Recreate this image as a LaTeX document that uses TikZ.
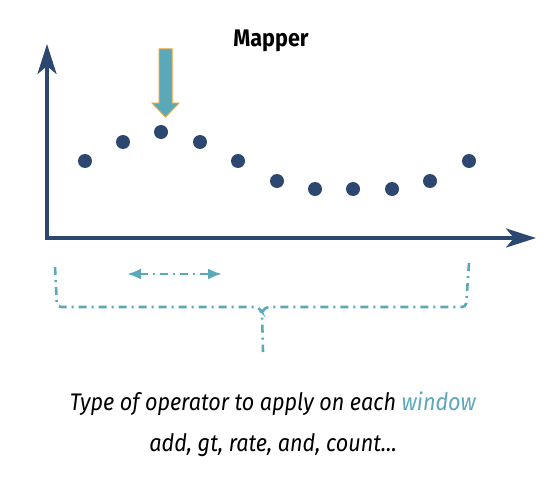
\documentclass[tikz,border=0pt]{standalone}
\usepackage{fontspec}
\setmainfont{Fira Sans}[FakeStretch=0.9]
\usetikzlibrary{arrows.meta,positioning}
\usepackage{xcolor}
\definecolor{navy}{HTML}{2C4770}
\definecolor{teal}{HTML}{5AA8B8}
\definecolor{amber}{HTML}{F0A030}

\begin{document}
\begin{tikzpicture}[
      x=1pt, y=-1pt,
      axis/.style={{Stealth[length=30pt,width=19pt,inset=8pt]}-{Stealth[length=30pt,width=19pt,inset=8pt]}, line width=3.6pt, draw=navy},
      sample/.style={circle, fill=navy, inner sep=0pt, minimum size=14pt},
      window/.style={draw=teal, line width=2.6pt, dash pattern=on 8pt off 5pt on 2pt off 5pt},
      caption/.style={font=\fontsize{24}{28}\selectfont\itshape, anchor=base}
    ]
    \useasboundingbox (0,0) rectangle (551,487);

    % axes
    \coordinate (ytop) at (47,44);
    \coordinate (origin) at (47,238);
    \coordinate (xend) at (536,238);
    \draw[axis] (ytop) -- (origin) -- (xend);

    % samples
    \foreach \i/\x/\y in {1/85/161, 2/123/142, 3/161/132, 4/200/142, 5/238/161,
                          6/277/181, 7/315/189, 8/353/189, 9/392/189, 10/430/181, 11/469/161}
      \node[sample] (s\i) at (\x,\y) {};

    % mapper arrow
    \node[font=\bfseries\fontsize{24}{28}\selectfont, anchor=base] (title) at (271,47) {Mapper};
    \draw[fill=teal, draw=amber, line width=1pt]
      (159,49) -- (172,49) -- (172,103) -- (179,103) -- (165.5,117)
      -- (152,103) -- (159,103) -- cycle;

    % window
    \coordinate (wl) at (127,274);
    \coordinate (wr) at (222,274);
    \draw[window, {Latex[length=14pt,width=11pt]}-{Latex[length=14pt,width=11pt]}] (wl) -- (wr);

    % brace
    \coordinate (bl) at (55,267);
    \coordinate (br) at (469,263);
    \coordinate (bm) at (262,307);
    \coordinate (bs) at (263,352);
    \draw[window, rounded corners=4pt] (bl) -- (57,307) -- (259,307) -- (262,313) -- (bs);
    \draw[window, rounded corners=4pt] (br) -- (466,307) -- (265,307) -- (262,313);

    % text
    \node[caption] (op) at (273,410) {Type of operator to apply on each \textcolor{teal}{window}};
    \node[caption] (ex) at (273,451) {add, gt, rate, and, count...};
\end{tikzpicture}
\end{document}
